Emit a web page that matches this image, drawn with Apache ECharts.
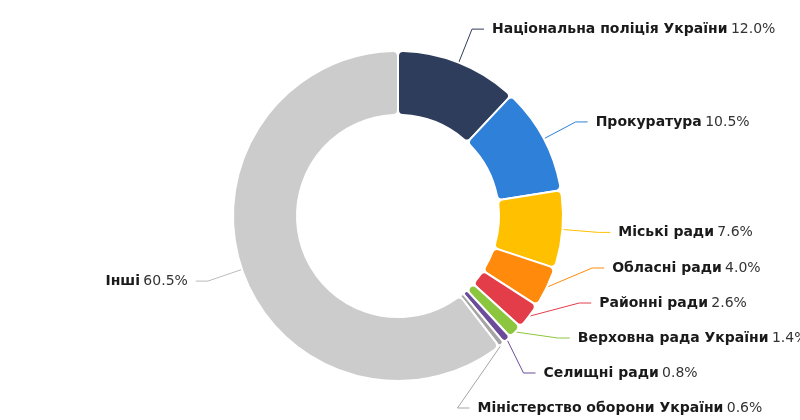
<!DOCTYPE html>
<html><head><meta charset="utf-8">
<script src="https://cdn.jsdelivr.net/npm/echarts@6/dist/echarts.min.js"></script>
<style>html,body{margin:0;padding:0;background:#fff}#c{width:800px;height:420px}</style>
</head><body><div id="c"></div>
<script>
const categories = ['Національна поліція України','Прокуратура','Міські ради','Обласні ради','Районні ради','Верховна рада України','Селищні ради','Міністерство оборони України','Інші'];
const values = [12.0, 10.5, 7.6, 4.0, 2.6, 1.4, 0.8, 0.6, 60.5];
const colors = ['#2e3d5b','#2f80d8','#ffc000','#ff8a0c','#e43d4a','#8cc63f','#6b4c9a','#a5a5a5','#cccccc'];

// geometry / label style settings
const CX = 398, CY = 216, R_IN = 101, R_OUT = 165;
const LEN = 36, LEN2 = 12, GAP = 8, LABEL_H = 35, MIN_Y = 12, MAX_Y = 408;

// Label placement (stack labels on each side, keep them on a circle of radius R_OUT+LEN)
function computeLabelLayout() {
  const total = values.reduce((a, b) => a + b, 0);
  let acc = 0;
  const items = values.map((v, i) => {
    const mid = (90 - (acc + v / 2) / total * 360) * Math.PI / 180;
    acc += v;
    const cos = Math.cos(mid), sin = Math.sin(mid);
    return {
      i, dir: cos >= 0 ? 1 : -1,
      p1: [CX + R_OUT * cos, CY - R_OUT * sin],
      y: CY - (R_OUT + LEN) * sin
    };
  });
  [1, -1].forEach(dir => {
    const side = items.filter(it => it.dir === dir).sort((a, b) => a.y - b.y);
    for (let k = 1; k < side.length; k++) side[k].y = Math.max(side[k].y, side[k - 1].y + LABEL_H);
    if (side.length && side[side.length - 1].y > MAX_Y) {
      side[side.length - 1].y = MAX_Y;
      for (let k = side.length - 2; k >= 0; k--) side[k].y = Math.min(side[k].y, side[k + 1].y - LABEL_H);
    }
  });
  const out = [];
  items.forEach(it => {
    const rr = R_OUT + LEN;
    const dy = Math.abs(it.y - CY);
    const dx = dy < rr ? Math.sqrt(rr * rr - dy * dy) : 0;
    const x2 = CX + it.dir * dx;
    const x3 = x2 + it.dir * LEN2;
    out[it.i] = {
      x: x3 + it.dir * GAP, y: it.y,
      align: it.dir > 0 ? 'left' : 'right', verticalAlign: 'middle',
      labelLinePoints: [it.p1, [x2, it.y], [x3, it.y]]
    };
  });
  return out;
}
const labelPos = computeLabelLayout();

const chart = echarts.init(document.getElementById('c'), null, {renderer:'canvas'});
chart.setOption({
  animation:false,
  series:[{
    type:'pie',
    center:[CX,CY],
    radius:[R_IN,R_OUT],
    startAngle:90,
    clockwise:true,
    avoidLabelOverlap:false,
    itemStyle:{borderColor:'#fff',borderWidth:2,borderRadius:5},
    label:{
      show:true,
      overflow:'none',
      formatter: p => '{b|' + p.name + '} {v|' + p.value.toFixed(1) + '%}',
      rich:{
        b:{fontFamily:'DejaVu Sans',fontWeight:'bold',fontSize:14,color:'#1a1a1a'},
        v:{fontFamily:'DejaVu Sans',fontSize:14,color:'#333'}
      }
    },
    labelLine:{show:true,length:LEN,length2:LEN2,lineStyle:{width:1}},
    labelLayout: p => labelPos[p.dataIndex],
    data: categories.map((n,i)=>({name:n,value:values[i],itemStyle:{color:colors[i]},labelLine:{lineStyle:{color: i===8 ? '#bbbbbb' : colors[i]}}}))
  }]
});
</script></body></html>
